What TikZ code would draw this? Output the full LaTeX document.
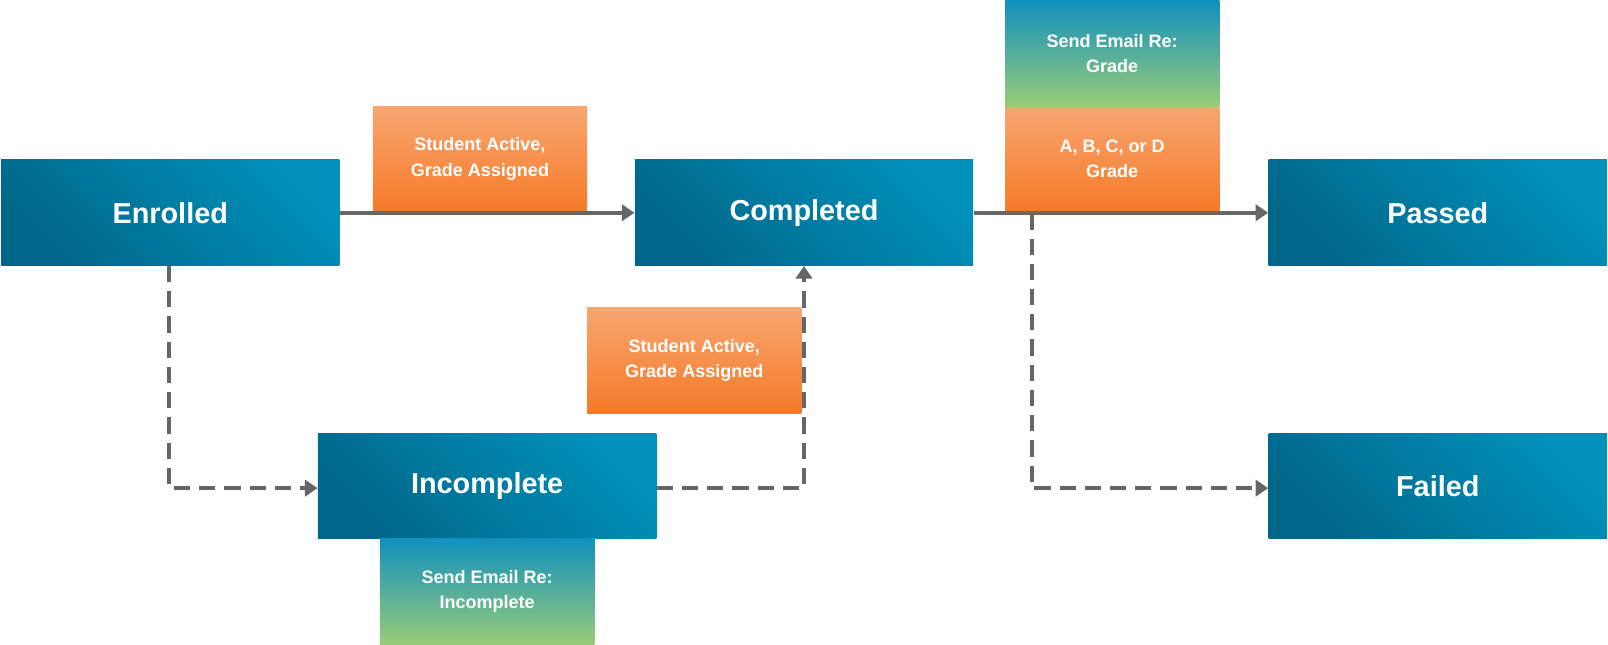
\documentclass[tikz,border=0pt]{standalone}
\usepackage{fontspec}
\setmainfont{Liberation Sans}
\usetikzlibrary{arrows.meta}
\definecolor{bdark}{HTML}{00678A}
\definecolor{blight}{HTML}{0090BA}
\definecolor{odark}{HTML}{F47A28}
\definecolor{olight}{HTML}{F9A670}
\definecolor{gdark}{HTML}{98CC78}
\definecolor{glight}{HTML}{1190BE}
\definecolor{ln}{HTML}{666666}
\begin{document}
\begin{tikzpicture}[x=0.02cm,y=-0.02cm,
  box/.style={minimum width=6.6cm,minimum height=2.06cm,inner sep=0pt,text=white,font=\bfseries\fontsize{16}{19}\selectfont,shading=axis,bottom color=bdark,top color=blight,shading angle=-45},
  lab/.style={minimum width=4.18cm,minimum height=2.06cm,inner sep=0pt,text=white,align=center,font=\bfseries\fontsize{10}{14}\selectfont,shading=axis,shading angle=-45},
  org/.style={lab,bottom color=odark,top color=olight},
  grn/.style={lab,bottom color=gdark,top color=glight},
  con/.style={draw=ln,line width=2.3pt,-{Triangle[length=7pt,width=9pt]}},
  dsh/.style={con,dash pattern=on 9pt off 5pt}]
\useasboundingbox (0,0) rectangle (1568,628);
\node[box] (enr) at (166,207.5) {Enrolled};
\node[box] (com) at (784,207.5) {Completed};
\node[box] (pas) at (1402,207.5) {Passed};
\node[box] (inc) at (475,474) {Incomplete};
\node[box] (fai) at (1402,474) {Failed};
\node[org] (o1) at (468,155) {Student Active,\\Grade Assigned};
\node[org] (o2) at (677,351.5) {Student Active,\\Grade Assigned};
\node[org] (o3) at (1084.5,155) {A, B, C, or D\\Grade};
\node[grn] (g1) at (1084.5,52) {Send Email Re:\\Grade};
\node[grn] (g2) at (475,576.5) {Send Email Re:\\Incomplete};
\coordinate (c1) at (165,476);
\coordinate (c2) at (784,476);
\coordinate (c3) at (1006,208);
\coordinate (c4) at (1006,476);
\draw[con] (enr.east) -- (com.west);
\draw[con] (com.east) -- (pas.west);
\draw[dsh] (enr.south -| c1) -- (c1) -- (inc.west |- c1);
\draw[dsh] (inc.east |- c2) -- (c2) -- (com.south -| c2);
\draw[dsh] (c3) -- (c4) -- (fai.west |- c4);
\end{tikzpicture}
\end{document}
